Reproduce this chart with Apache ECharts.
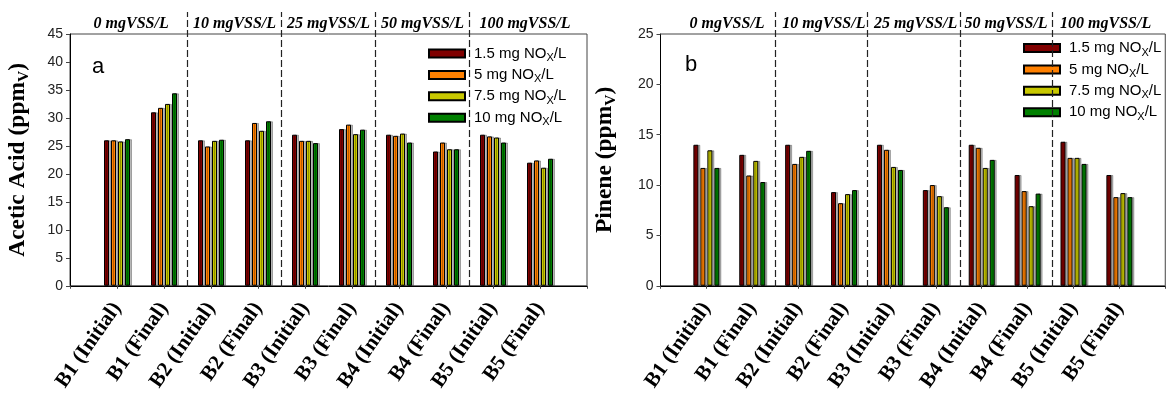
<!DOCTYPE html>
<html>
<head>
<meta charset="utf-8">
<script src="https://cdn.jsdelivr.net/npm/echarts@6/dist/echarts.min.js"></script>
<style>
html,body{margin:0;padding:0;background:#fff;}
#chart{width:1167px;height:394px;}
</style>
</head>
<body>
<div id="chart"></div>
<script>
// ---------------- data ----------------
const categories = ['B1 (Initial)', 'B1 (Final)', 'B2 (Initial)', 'B2 (Final)', 'B3 (Initial)',
                    'B3 (Final)', 'B4 (Initial)', 'B4 (Final)', 'B5 (Initial)', 'B5 (Final)'];
const groupLabels = ['0 mgVSS/L', '10 mgVSS/L', '25 mgVSS/L', '50 mgVSS/L', '100 mgVSS/L'];
const noxLevels = ['1.5', '5', '7.5', '10'];
const seriesNames = noxLevels.map(function (p) { return p + ' mg NOX/L'; });

const acetic_1_5 = [26.0, 31.0, 26.0, 26.0, 27.0, 28.0, 27.0, 24.0, 27.0, 22.0];
const acetic_5   = [26.0, 31.8, 24.9, 29.1, 25.9, 28.8, 26.8, 25.6, 26.7, 22.4];
const acetic_7_5 = [25.8, 32.5, 25.9, 27.7, 25.9, 27.1, 27.2, 24.4, 26.5, 21.1];
const acetic_10  = [26.2, 34.4, 26.1, 29.4, 25.5, 27.9, 25.6, 24.4, 25.6, 22.7];

const pinene_1_5 = [14.0, 13.0, 14.0, 9.3, 14.0, 9.5, 14.0, 11.0, 14.3, 11.0];
const pinene_5   = [11.7, 10.95, 12.1, 8.2, 13.5, 10.0, 13.7, 9.4, 12.7, 8.8];
const pinene_7_5 = [13.45, 12.4, 12.8, 9.1, 11.8, 8.9, 11.7, 7.9, 12.7, 9.2];
const pinene_10  = [11.7, 10.3, 13.4, 9.5, 11.5, 7.8, 12.5, 9.15, 12.1, 8.8];

const aceticSeries = [acetic_1_5, acetic_5, acetic_7_5, acetic_10];
const pineneSeries = [pinene_1_5, pinene_5, pinene_7_5, pinene_10];

// ---------------- styling / layout ----------------
const colors = ['#800000', '#FF8000', '#C8C800', '#008000'];
const serif = "'Liberation Serif', 'Times New Roman', serif";
const sans = "'Liberation Sans', Arial, sans-serif";
const separators = [1.5, 3.5, 5.5, 7.5];
const groupPosA = [0.3, 2.5, 4.5, 6.5, 8.68];
const groupPosB = [0.45, 2.56, 4.56, 6.53, 8.7];

const chart = echarts.init(document.getElementById('chart'), null, { renderer: 'canvas' });

const gridA = { left: 70, width: 517, top: 34, bottom: 107 };
const gridB = { left: 660.5, width: 517, top: 34, bottom: 107 };

function bottomXAxis(gridIndex) {
  return {
    type: 'value', gridIndex: gridIndex, min: -1, max: 10, interval: 1, position: 'bottom',
    axisLine: { show: true, onZero: false, lineStyle: { color: '#000', width: 1 } },
    axisTick: { show: true, length: 3, lineStyle: { color: '#444' } },
    splitLine: { show: false },
    axisLabel: {
      rotate: 55, margin: 19, fontFamily: serif, fontWeight: 'bold', fontSize: 21, color: '#000',
      showMinLabel: true, showMaxLabel: true,
      formatter: function (v) { return (v >= 0 && v < categories.length && Math.round(v) === v) ? categories[v] : ''; }
    }
  };
}
function topXAxis(gridIndex, pos) {
  return {
    type: 'value', gridIndex: gridIndex, min: -1, max: 10, position: 'top',
    axisLine: { show: false, onZero: false }, axisTick: { show: false }, splitLine: { show: false },
    axisLabel: {
      customValues: pos, margin: 2, fontFamily: serif, fontWeight: 'bold', fontStyle: 'italic',
      fontSize: 16, color: '#000',
      formatter: function (v) { const i = pos.indexOf(v); return i >= 0 ? groupLabels[i] : ''; }
    }
  };
}
function overlayXAxis(gridIndex) {
  return { type: 'value', gridIndex: gridIndex, min: -1, max: 10, show: false };
}
function yAxisMain(gridIndex, max, nameText, gap) {
  return {
    type: 'value', gridIndex: gridIndex, min: 0, max: max, interval: 5,
    axisLine: { show: true, onZero: false, lineStyle: { color: '#000', width: 1 } },
    axisTick: { show: true, length: 4, lineStyle: { color: '#444' } },
    splitLine: { show: false },
    axisLabel: { fontFamily: sans, fontSize: 14, color: '#222', margin: 7 },
    name: '{t|' + nameText + ' (ppm}{s|V}{t|)}',
    nameLocation: 'middle', nameGap: gap,
    nameTextStyle: {
      rich: {
        t: { fontFamily: serif, fontWeight: 'bold', fontSize: 23.5, color: '#000', lineHeight: 28 },
        s: { fontFamily: serif, fontWeight: 'bold', fontSize: 15.5, color: '#000', lineHeight: 28, verticalAlign: 'bottom' }
      }
    }
  };
}
function overlayYAxis(gridIndex) {
  return { type: 'value', gridIndex: gridIndex, min: 0, max: 1, show: false };
}

function barSeries(data, idx, xIdx, yIdx) {
  return {
    type: 'bar', name: seriesNames[idx], xAxisIndex: xIdx, yAxisIndex: yIdx,
    barWidth: 5, barGap: '40%',
    itemStyle: {
      color: colors[idx], borderColor: '#000', borderWidth: 1,
      shadowColor: 'rgba(0,0,0,0.28)', shadowOffsetX: 2, shadowOffsetY: 0, shadowBlur: 0
    },
    data: data.map(function (v, i) { return [i, v]; }),
    animation: false, silent: true
  };
}
function separatorSeries(xIdx, yIdx) {
  return {
    type: 'line', xAxisIndex: xIdx, yAxisIndex: yIdx, data: [], silent: true, animation: false,
    markLine: {
      silent: true, symbol: ['none', 'none'], label: { show: false }, animation: false,
      lineStyle: { color: '#222', width: 1.2, type: [7, 3] },
      data: separators.map(function (s) { return { xAxis: s }; })
    }
  };
}

const legendRich = {
  n: { fontFamily: sans, fontSize: 15, color: '#000', lineHeight: 20 },
  s: { fontFamily: sans, fontSize: 11, color: '#000', lineHeight: 20, verticalAlign: 'bottom' }
};
function legendFmt(name) {
  return '{n|' + name.split(' mg')[0] + ' mg NO}{s|X}{n|/L}';
}
function legend(left, top) {
  return {
    orient: 'vertical', left: left, top: top, padding: 0, itemGap: 3.9,
    itemWidth: 36, itemHeight: 8, icon: 'rect', selectedMode: false,
    data: seriesNames, formatter: legendFmt,
    textStyle: { rich: legendRich, padding: [0, 0, 0, 4] }
  };
}

const series = [];
aceticSeries.forEach(function (d, i) { series.push(barSeries(d, i, 0, 0)); });
pineneSeries.forEach(function (d, i) { series.push(barSeries(d, i, 2, 1)); });
series.push(separatorSeries(4, 2));
series.push(separatorSeries(5, 3));

chart.setOption({
  animation: false,
  backgroundColor: '#fff',
  title: [
    { text: 'a', left: 92, top: 56, padding: 0, textStyle: { fontFamily: sans, fontSize: 22, fontWeight: 'normal', color: '#000' } },
    { text: 'b', left: 685, top: 54, padding: 0, textStyle: { fontFamily: sans, fontSize: 22, fontWeight: 'normal', color: '#000' } }
  ],
  legend: [legend(428, 46), legend(1023, 40.5)],
  grid: [
    Object.assign({ show: true, borderColor: '#444', borderWidth: 1 }, gridA),
    Object.assign({ show: true, borderColor: '#444', borderWidth: 1 }, gridB),
    { left: gridA.left, width: gridA.width, top: 12, bottom: 107 },
    { left: gridB.left, width: gridB.width, top: 12, bottom: 107 }
  ],
  xAxis: [bottomXAxis(0), topXAxis(0, groupPosA), bottomXAxis(1), topXAxis(1, groupPosB), overlayXAxis(2), overlayXAxis(3)],
  yAxis: [yAxisMain(0, 45, 'Acetic Acid', 38), yAxisMain(1, 25, 'Pinene', 42), overlayYAxis(2), overlayYAxis(3)],
  series: series
});
</script>
</body>
</html>
